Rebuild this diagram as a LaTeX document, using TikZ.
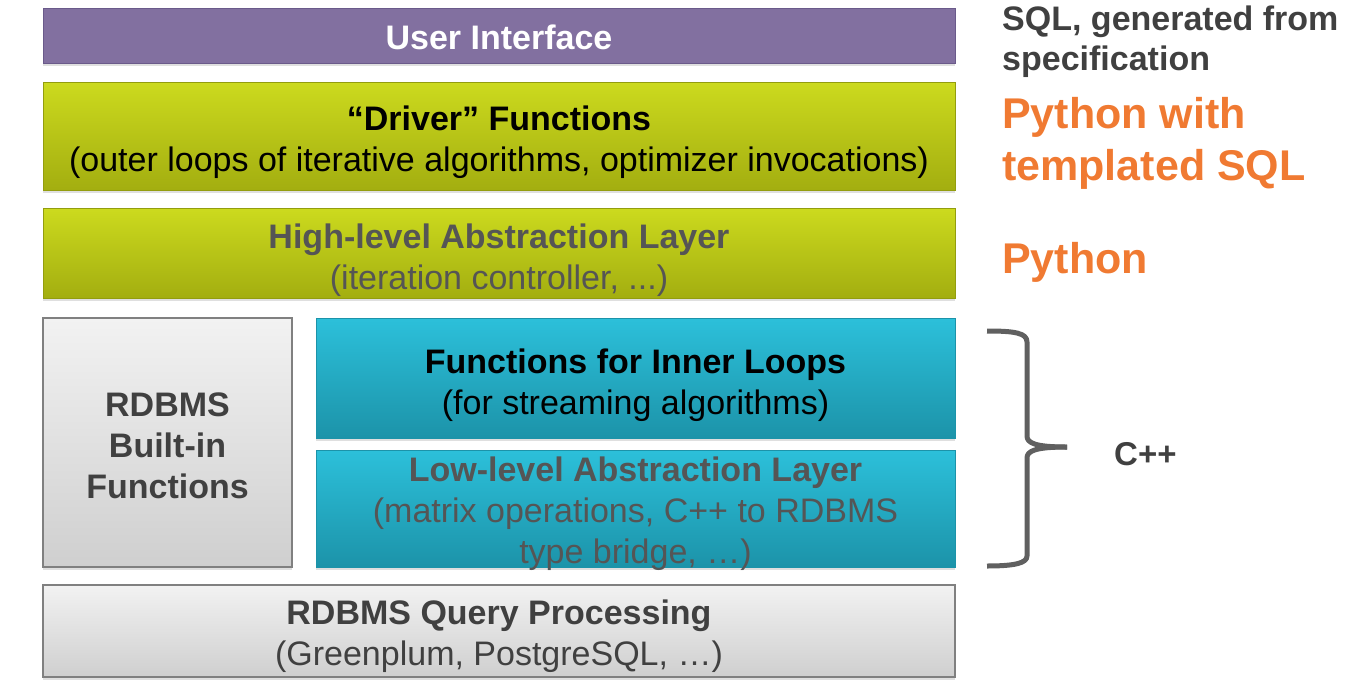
\documentclass[tikz,border=0pt]{standalone}
\usepackage{fontspec}
\setmainfont{Liberation Sans}
\usetikzlibrary{shadows}
\definecolor{uipurple}{HTML}{8270A0}
\definecolor{uiborder}{HTML}{6A5A8A}
\definecolor{greentop}{HTML}{CCDA1E}
\definecolor{greenbot}{HTML}{A3AE10}
\definecolor{cyantop}{HTML}{2CC0DA}
\definecolor{cyanbot}{HTML}{1C93A9}
\definecolor{graytop}{HTML}{F2F2F2}
\definecolor{graybot}{HTML}{CFCFCF}
\definecolor{grayborder}{HTML}{808080}
\definecolor{darktext}{HTML}{404040}
\definecolor{midtext}{HTML}{555555}
\definecolor{orangetext}{HTML}{F07A32}
\definecolor{bracegray}{HTML}{606060}
\tikzset{
  layer/.style={rectangle, inner sep=0pt,
    drop shadow={opacity=0.25, shadow xshift=0pt, shadow yshift=-3pt}},
  boxtext/.style={inner sep=0pt, align=center, font=\fontsize{34}{41}\selectfont},
  purplebox/.style={layer, fill=uipurple, draw=uiborder, line width=1pt},
  greenbox/.style={layer, top color=greentop, bottom color=greenbot, draw=greenbot!90!black, line width=0.6pt},
  cyanbox/.style={layer, top color=cyantop, bottom color=cyanbot, draw=cyanbot, line width=0.6pt},
  graybox/.style={layer, top color=graytop, bottom color=graybot, draw=grayborder, line width=1.2pt},
  sidelabel/.style={anchor=base west, inner sep=0pt, font=\bfseries\fontsize{34}{40}\selectfont, text=darktext},
  orangelabel/.style={anchor=base west, inner sep=0pt, font=\bfseries\fontsize{43}{52}\selectfont, text=orangetext},
  bracestyle/.style={draw=bracegray, line width=5pt, line cap=butt, line join=round}
}
\begin{document}
\begin{tikzpicture}[x=1pt, y=-1pt]
\useasboundingbox (0,0) rectangle (1353,681);

\node[purplebox, minimum width=912pt, minimum height=55pt] (ui) at (499,35.5) {};
\node[greenbox, minimum width=912pt, minimum height=108pt] (driver) at (499,136) {};
\node[greenbox, minimum width=912pt, minimum height=90pt] (high) at (499,253) {};
\node[graybox, minimum width=249pt, minimum height=249pt] (builtin) at (167.5,442.5) {};
\node[cyanbox, minimum width=639pt, minimum height=120pt] (inner) at (635.5,378) {};
\node[cyanbox, minimum width=639pt, minimum height=117pt] (low) at (635.5,508.5) {};
\node[graybox, minimum width=912pt, minimum height=92pt] (query) at (499,631) {};

\node[boxtext, text=white] (uit) at ([yshift=-2pt]ui.center) {\bfseries User Interface};
\node[boxtext, text=black] (drivert) at ([yshift=-6pt]driver.center)
  {\bfseries “Driver” Functions\\(outer loops of iterative algorithms, optimizer invocations)};
\node[boxtext, text=midtext] (hight) at ([yshift=-7pt]high.center)
  {\bfseries High-level Abstraction Layer\\(iteration controller, ...)};
\node[boxtext, text=darktext] (builtint) at ([yshift=-3pt]builtin.center)
  {\bfseries RDBMS\\\bfseries Built-in\\\bfseries Functions};
\node[boxtext, text=black] (innert) at ([yshift=-7pt]inner.center)
  {\bfseries Functions for Inner Loops\\(for streaming algorithms)};
\node[boxtext, text=midtext] (lowt) at ([yshift=-5pt]low.center)
  {\bfseries Low-level Abstraction Layer\\(matrix operations, C++ to RDBMS\\type bridge, …)};
\node[boxtext, text=darktext] (queryt) at ([yshift=-5pt]query.center)
  {\bfseries RDBMS Query Processing\\(Greenplum, PostgreSQL, …)};

\node[sidelabel] (sql1) at (1002,30) {SQL, generated from};
\node[sidelabel] (sql2) at (1002,70) {specification};
\node[orangelabel] (py1) at (1002,128) {Python with};
\node[orangelabel] (py2) at (1002,180) {templated SQL};
\node[orangelabel] (python) at (1002,273) {Python};

\draw[bracestyle] (987,331) .. controls (1015,331) and (1027,333) .. (1027,342)
  -- (1027,436) .. controls (1027,443) and (1035,447) .. (1067,447);
\draw[bracestyle] (1067,447) .. controls (1035,447) and (1027,451) .. (1027,458)
  -- (1027,556) .. controls (1027,563) and (1015,566) .. (987,566);
\node[anchor=base west, inner sep=0pt, font=\bfseries\fontsize{33}{40}\selectfont, text=darktext] (cpp) at (1114,465) {C++};
\end{tikzpicture}
\end{document}
